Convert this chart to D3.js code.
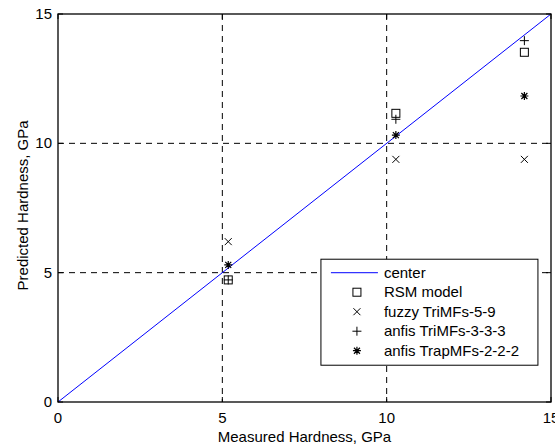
<!DOCTYPE html>
<html>
<head>
<meta charset="utf-8">
<script src="https://cdn.jsdelivr.net/npm/d3@7"></script>
<style>
  body { margin: 0; background: #fff; }
  text { font-family: "Liberation Sans", Arial, sans-serif; font-size: 15px; fill: #000; }
</style>
</head>
<body>
<div id="chart"></div>
<script>
const W = 555, H = 445;
const margin = { top: 14, right: 4, bottom: 43, left: 58 };
const width = W - margin.left - margin.right;
const height = H - margin.top - margin.bottom;

// data
const measured = [5.18, 10.28, 14.19];
const rsm = [4.72, 11.16, 13.52];
const fuzzy = [6.2, 9.38, 9.38];
const anfisTri = [4.72, 10.93, 13.97];
const anfisTrap = [5.3, 10.32, 11.83];
const ticks = [0, 5, 10, 15];
const gridVals = [5, 10];
const legendNames = ["center", "RSM model", "fuzzy TriMFs-5-9", "anfis TriMFs-3-3-3", "anfis TrapMFs-2-2-2"];

const svg = d3.select("#chart").append("svg")
  .attr("width", W).attr("height", H)
  .append("g")
  .attr("transform", `translate(${margin.left},${margin.top})`);

const x = d3.scaleLinear().domain([0, 15]).range([0, width]);
const y = d3.scaleLinear().domain([0, 15]).range([height, 0]);

// dashed grid
svg.selectAll("line.gx").data(gridVals).enter().append("line")
  .attr("x1", d => x(d)).attr("x2", d => x(d))
  .attr("y1", 0).attr("y2", height)
  .attr("stroke", "#000").attr("stroke-dasharray", "6,5");
svg.selectAll("line.gy").data(gridVals).enter().append("line")
  .attr("y1", d => y(d)).attr("y2", d => y(d))
  .attr("x1", 0).attr("x2", width)
  .attr("stroke", "#000").attr("stroke-dasharray", "6,5");

// center line
svg.append("line")
  .attr("x1", x(0)).attr("y1", y(0)).attr("x2", x(15)).attr("y2", y(15))
  .attr("stroke", "#0000ff").attr("stroke-width", 1);

// markers
function marker(g, type, cx, cy) {
  const s = 4;
  if (type === "square") {
    g.append("rect").attr("x", cx - s).attr("y", cy - s).attr("width", 2 * s).attr("height", 2 * s)
      .attr("fill", "none").attr("stroke", "#000");
  } else if (type === "x") {
    const t = 3.5;
    g.append("path").attr("d", `M${cx - t},${cy - t}L${cx + t},${cy + t}M${cx - t},${cy + t}L${cx + t},${cy - t}`)
      .attr("stroke", "#000").attr("fill", "none");
  } else if (type === "plus") {
    const t = 4.5;
    g.append("path").attr("d", `M${cx - t},${cy}L${cx + t},${cy}M${cx},${cy - t}L${cx},${cy + t}`)
      .attr("stroke", "#000").attr("fill", "none");
  } else if (type === "star") {
    const t = 4, d = 3;
    g.append("path").attr("d", `M${cx - t},${cy}L${cx + t},${cy}M${cx},${cy - t}L${cx},${cy + t}M${cx - d},${cy - d}L${cx + d},${cy + d}M${cx - d},${cy + d}L${cx + d},${cy - d}`)
      .attr("stroke", "#000").attr("stroke-width", 1.2).attr("fill", "none");
  }
}

const series = [
  { vals: rsm, type: "square" },
  { vals: fuzzy, type: "x" },
  { vals: anfisTri, type: "plus" },
  { vals: anfisTrap, type: "star" }
];
const pts = svg.append("g");
series.forEach(s => {
  s.vals.forEach((v, i) => marker(pts, s.type, x(measured[i]), y(v)));
});

// axes box with inward ticks
svg.append("rect").attr("width", width).attr("height", height)
  .attr("fill", "none").attr("stroke", "#000").attr("stroke-width", 1.3);

const tl = 5;
ticks.forEach(t => {
  svg.append("line").attr("x1", x(t)).attr("x2", x(t)).attr("y1", height).attr("y2", height - tl).attr("stroke", "#000");
  svg.append("line").attr("x1", x(t)).attr("x2", x(t)).attr("y1", 0).attr("y2", tl).attr("stroke", "#000");
  svg.append("line").attr("y1", y(t)).attr("y2", y(t)).attr("x1", 0).attr("x2", tl).attr("stroke", "#000");
  svg.append("line").attr("y1", y(t)).attr("y2", y(t)).attr("x1", width).attr("x2", width - tl).attr("stroke", "#000");
});

svg.selectAll("text.xt").data(ticks).enter().append("text")
  .attr("x", d => x(d)).attr("y", height + 21)
  .attr("text-anchor", "middle").text(d => d);
svg.selectAll("text.yt").data(ticks).enter().append("text")
  .attr("x", -6).attr("y", d => y(d) + 5)
  .attr("text-anchor", "end").text(d => d);

svg.append("text").attr("x", width / 2).attr("y", height + 40)
  .attr("text-anchor", "middle").text("Measured Hardness, GPa");
svg.append("text")
  .attr("transform", `translate(${-30},${y(7.6)}) rotate(-90)`)
  .attr("text-anchor", "middle").text("Predicted Hardness, GPa");

// legend
const lg = svg.append("g").attr("transform", `translate(${x(8)},${y(5.52)})`);
lg.append("rect").attr("width", 217).attr("height", 106)
  .attr("fill", "#fff").attr("stroke", "#000");
const rowY = d3.scaleLinear().domain([0, 4]).range([13.5, 91.5]);
legendNames.forEach((name, i) => {
  const yy = rowY(i);
  if (i === 0) {
    lg.append("line").attr("x1", 10).attr("x2", 57).attr("y1", yy).attr("y2", yy).attr("stroke", "#0000ff");
  } else {
    marker(lg, series[i - 1].type, 36, yy);
  }
  lg.append("text").attr("x", 63).attr("y", yy + 5).text(name);
});
</script>
</body>
</html>
